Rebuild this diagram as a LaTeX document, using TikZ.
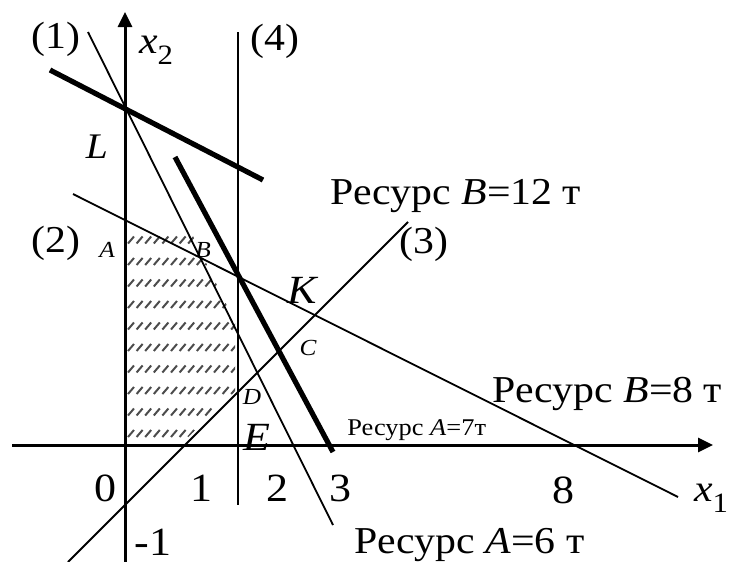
\documentclass[tikz,border=0pt]{standalone}
\usepackage{fontspec}
\setmainfont{Liberation Serif}[FakeStretch=1.1]
\usetikzlibrary{arrows.meta}
\begin{document}
\begin{tikzpicture}[
  x=0.5pt, y=-0.5pt,
  axis/.style={line width=1.5pt, -{Triangle[length=7.5pt, width=7pt]}},
  thinline/.style={line width=0.9pt},
  boldline/.style={line width=2.6pt},
  hatchline/.style={line width=1pt, black!70},
  big/.style={inner sep=0pt, font=\fontsize{19}{23}\selectfont},
  tick/.style={inner sep=0pt, font=\fontsize{20}{24}\selectfont},
  pt/.style={inner sep=0pt, font=\fontsize{20}{24}\selectfont\itshape},
  res/.style={inner sep=0pt, anchor=base west, font=\fontsize{19}{23}\selectfont},
  small/.style={inner sep=0pt, font=\fontsize{11.5}{14}\selectfont\itshape}
]
\useasboundingbox (0,0) rectangle (730,562);
\coordinate (xl) at (12,445);
\coordinate (xr) at (713,445);
\coordinate (yb) at (125,562);
\coordinate (yt) at (125,12);
\coordinate (l1a) at (88,32);
\coordinate (l1b) at (333,525);
\coordinate (l2a) at (73,194);
\coordinate (l2b) at (678,497);
\coordinate (l3a) at (68,562);
\coordinate (l3b) at (408,222);
\coordinate (l4a) at (238,32);
\coordinate (l4b) at (238,505);
\coordinate (fa) at (50,70);
\coordinate (fb) at (263,180);
\coordinate (ga) at (175,157);
\coordinate (gb) at (333,452);
\begin{scope}
  \clip (127,230) -- (190,230) -- (235,322) -- (235,392) -- (180,445) -- (127,445) -- cycle;
  \foreach \r in {0,...,9}
    \foreach \c in {0,...,12}
      \draw[hatchline] ({128+8.6*\c},{243.5+21.5*\r}) -- ++(6,-7);
\end{scope}
\draw[axis] (xl) -- (xr);
\draw[axis] (yb) -- (yt);
\draw[thinline] (l1a) -- (l1b);
\draw[thinline] (l2a) -- (l2b);
\draw[thinline] (l3a) -- (l3b);
\draw[thinline] (l4a) -- (l4b);
\draw[boldline] (fa) -- (fb);
\draw[boldline] (ga) -- (gb);
\node[big] (n1) at (56,39) {(1)};
\node[big] (n4) at (275,41) {(4)};
\node[big] (n2) at (56,243) {(2)};
\node[big] (n3) at (424,244) {(3)};
\node[big] (x2) at (156,50) {\textit{x}\raisebox{-0.3em}{\fontsize{14}{16}\selectfont 2}};
\node[big] (x1) at (711,498) {\textit{x}\raisebox{-0.3em}{\fontsize{14}{16}\selectfont 1}};
\node[pt, font=\fontsize{18}{22}\selectfont\itshape] (ptL) at (97,147) {L};
\node[pt] (ptK) at (302,290) {K};
\node[pt] (ptE) at (257,437) {E};
\node[small] (ptA) at (107,250) {A};
\node[small] (ptB) at (203,250) {B};
\node[small] (ptC) at (308,348) {C};
\node[small] (ptD) at (252,397) {D};
\node[tick] (t0) at (105,488) {0};
\node[tick] (t1) at (202,488) {1};
\node[tick] (t2) at (277,488) {2};
\node[tick] (t3) at (340,488) {3};
\node[tick] (t8) at (563,490) {8};
\node[tick] (tm1) at (153,542) {-1};
\node[res] (resB12) at (330,204) {Ресурс \textit{B}=12 т};
\node[res] (resB8) at (492,402) {Ресурс \textit{B}=8 т};
\node[res, font=\fontsize{12}{14}\selectfont] (resA7) at (347,435) {Ресурс \textit{A}=7т};
\node[res] (resA6) at (354,553) {Ресурс \textit{A}=6 т};
\end{tikzpicture}
\end{document}
